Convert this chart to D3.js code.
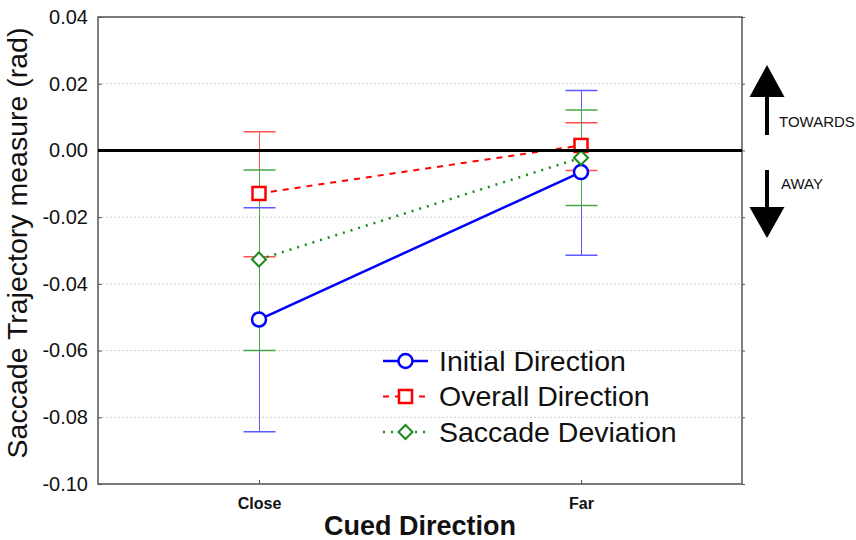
<!DOCTYPE html>
<html>
<head>
<meta charset="utf-8">
<script src="https://cdn.jsdelivr.net/npm/d3@7"></script>
<style>
  body { margin: 0; background: #fff; }
  svg { display: block; font-family: Arial, "Liberation Sans", sans-serif; }
</style>
</head>
<body>
<svg></svg>
<script>
var categories = ["Close", "Far"];
var yTicks = [0.04, 0.02, 0.00, -0.02, -0.04, -0.06, -0.08, -0.10];

var initialMean = [-0.0507, -0.0065];
var initialLow = [-0.0843, -0.0314];
var initialHigh = [-0.0172, 0.0180];

var overallMean = [-0.0129, 0.0015];
var overallLow = [-0.0319, -0.0060];
var overallHigh = [0.0056, 0.0083];

var deviationMean = [-0.0327, -0.0022];
var deviationLow = [-0.0600, -0.0165];
var deviationHigh = [-0.0059, 0.0121];

var seriesNames = ["Initial Direction", "Overall Direction", "Saccade Deviation"];

var margin = {top: 17, right: 114, bottom: 56, left: 98},
    width = 856 - margin.left - margin.right,
    height = 540 - margin.top - margin.bottom;

var svg = d3.select("svg")
    .attr("width", 856)
    .attr("height", 540);

var g = svg.append("g")
    .attr("transform", "translate(" + margin.left + "," + margin.top + ")");

var x = d3.scalePoint().domain(categories).range([0, width]).padding(0.5);
var y = d3.scaleLinear().domain([-0.10, 0.04]).range([height, 0]);

// errColor is a lighter tint for the thin whiskers
var series = [
  {name: seriesNames[0], mean: initialMean, low: initialLow, high: initialHigh,
   color: "#0000ff", errColor: "#5a5aff", dash: null, width: 2.5, shape: "circle"},
  {name: seriesNames[1], mean: overallMean, low: overallLow, high: overallHigh,
   color: "#ff0000", errColor: "#ff5050", dash: "6,6", width: 2, shape: "square"},
  {name: seriesNames[2], mean: deviationMean, low: deviationLow, high: deviationHigh,
   color: "#1a8a1a", errColor: "#45a845", dash: "2,6", width: 2.5, shape: "diamond"}
];

// tick labels use a plain hyphen like the original
var fmt = function(d) { return d3.format(".2f")(d).replace("\u2212", "-").replace("-0.00", "0.00"); };

// grid
g.selectAll(".grid")
    .data(yTicks)
  .enter().append("line")
    .attr("x1", 0).attr("x2", width)
    .attr("y1", function(d) { return y(d); })
    .attr("y2", function(d) { return y(d); })
    .style("stroke", "#d0d0d0")
    .style("stroke-dasharray", "2,2");

// frame
g.append("rect")
    .attr("width", width).attr("height", height)
    .style("fill", "none").style("stroke", "#555").style("stroke-width", 1.5);

var yAxis = d3.axisLeft(y).tickValues(yTicks).tickFormat(fmt).tickSize(-4).tickPadding(10);
g.append("g")
    .attr("class", "y axis")
    .call(yAxis)
    .call(function(s) {
      s.select(".domain").remove();
      s.selectAll("line").style("stroke", "#555");
      s.selectAll("text").style("font-size", "20px").style("fill", "#111");
    });

g.append("g")
    .attr("transform", "translate(" + width + ",0)")
    .call(d3.axisRight(y).tickValues(yTicks).tickSize(3).tickFormat(""))
    .call(function(s) {
      s.select(".domain").remove();
      s.selectAll("line").style("stroke", "#555");
    });

var xAxis = d3.axisBottom(x).tickSize(-4).tickPadding(14);
g.append("g")
    .attr("class", "x axis")
    .attr("transform", "translate(0," + height + ")")
    .call(xAxis)
    .call(function(s) {
      s.select(".domain").remove();
      s.selectAll("line").style("stroke", "#555");
      s.selectAll("text").style("font-size", "16px").style("font-weight", "bold").style("fill", "#111");
    });

// axis titles
svg.append("text")
    .attr("x", margin.left + width / 2)
    .attr("y", 535)
    .style("text-anchor", "middle")
    .style("font-size", "27px")
    .style("font-weight", "bold")
    .style("fill", "#111")
    .text("Cued Direction");

svg.append("text")
    .attr("transform", "translate(27," + 243 + ") rotate(-90)")
    .style("text-anchor", "middle")
    .style("font-size", "28.5px")
    .style("fill", "#111")
    .text("Saccade Trajectory measure (rad)");

// error bars
var capW = 16;
series.forEach(function(s) {
  var eb = g.append("g");
  categories.forEach(function(c, i) {
    var cx = Math.round(x(c)) + 0.5;
    eb.append("line")
        .attr("x1", cx).attr("x2", cx)
        .attr("y1", y(s.low[i])).attr("y2", y(s.high[i]))
        .style("stroke", s.errColor).style("stroke-width", 1);
    [s.low[i], s.high[i]].forEach(function(v) {
      eb.append("line")
          .attr("x1", cx - capW).attr("x2", cx + capW)
          .attr("y1", y(v)).attr("y2", y(v))
          .style("stroke", s.errColor).style("stroke-width", 1.5);
    });
  });
});

// mean lines
var line = d3.line()
    .x(function(d, i) { return x(categories[i]); })
    .y(function(d) { return y(d); });

series.forEach(function(s) {
  g.append("path")
      .datum(s.mean)
      .attr("d", line)
      .style("fill", "none")
      .style("stroke", s.color)
      .style("stroke-width", s.width)
      .style("stroke-dasharray", s.dash);
});

function drawMarker(sel, shape, color, cx, cy) {
  if (shape === "circle") {
    sel.append("circle").attr("cx", cx).attr("cy", cy).attr("r", 7)
        .style("fill", "#fff").style("stroke", color).style("stroke-width", 2.5);
  } else if (shape === "square") {
    sel.append("rect").attr("x", cx - 6.5).attr("y", cy - 6.5).attr("width", 13).attr("height", 13)
        .style("fill", "#fff").style("stroke", color).style("stroke-width", 2.5);
  } else {
    sel.append("path")
        .attr("d", "M" + cx + "," + (cy - 7) + "L" + (cx + 7) + "," + cy + "L" + cx + "," + (cy + 7) + "L" + (cx - 7) + "," + cy + "Z")
        .style("fill", "#fff").style("stroke", color).style("stroke-width", 2);
  }
}

series.forEach(function(s) {
  s.mean.forEach(function(v, i) {
    drawMarker(g, s.shape, s.color, x(categories[i]), y(v));
  });
});

// zero line
g.append("line")
    .attr("x1", 0).attr("x2", width)
    .attr("y1", y(0)).attr("y2", y(0))
    .style("stroke", "#000").style("stroke-width", 3);

// legend
var legend = svg.append("g").attr("transform", "translate(383,361)");
series.forEach(function(s, i) {
  var row = legend.append("g").attr("transform", "translate(0," + (i * 35.5) + ")");
  row.append("line")
      .attr("x1", 0).attr("x2", 45)
      .style("stroke", s.color)
      .style("stroke-width", s.width)
      .style("stroke-dasharray", s.dash);
  drawMarker(row, s.shape, s.color, 22.5, 0);
  row.append("text")
      .attr("x", 56)
      .attr("dy", "0.35em")
      .style("font-size", "28.5px")
      .style("fill", "#111")
      .text(s.name);
});

// direction arrows
var ax = 767;
svg.append("path")
    .attr("d", "M" + ax + ",65L" + (ax + 17.5) + ",97L" + (ax + 2) + ",97L" + (ax + 2) + ",135L" + (ax - 2) + ",135L" + (ax - 2) + ",97L" + (ax - 17.5) + ",97Z")
    .style("fill", "#000");
svg.append("path")
    .attr("d", "M" + ax + ",238L" + (ax + 17.5) + ",207L" + (ax + 2) + ",207L" + (ax + 2) + ",170L" + (ax - 2) + ",170L" + (ax - 2) + ",207L" + (ax - 17.5) + ",207Z")
    .style("fill", "#000");
svg.append("text")
    .attr("x", 779).attr("y", 127)
    .style("font-size", "15px").style("fill", "#111")
    .text("TOWARDS");
svg.append("text")
    .attr("x", 781).attr("y", 189)
    .style("font-size", "15px").style("fill", "#111")
    .text("AWAY");
</script>
</body>
</html>
